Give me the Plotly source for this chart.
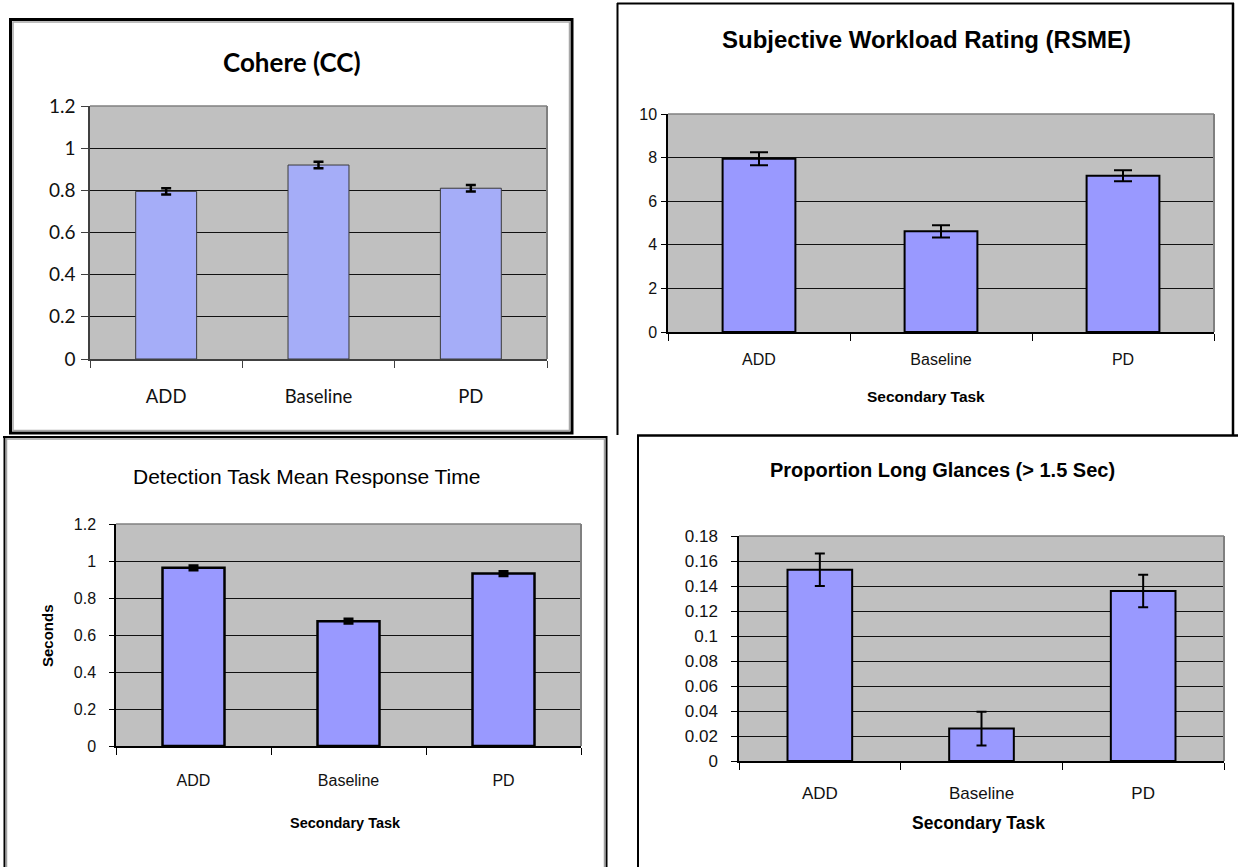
import plotly.graph_objects as go

# ---------------- data ----------------
categories = ["ADD", "Baseline", "PD"]

cc_values = [0.795, 0.92, 0.81]
cc_errors = [0.015, 0.015, 0.015]
cc_tickvals = [0, 0.2, 0.4, 0.6, 0.8, 1.0, 1.2]
cc_ticktext = ["0", "0.2", "0.4", "0.6", "0.8", "1", "1.2"]

rsme_values = [7.95, 4.62, 7.17]
rsme_errors = [0.3, 0.28, 0.25]
rsme_tickvals = [0, 2, 4, 6, 8, 10]
rsme_ticktext = ["0", "2", "4", "6", "8", "10"]

rt_values = [0.963, 0.675, 0.932]
rt_errors = [0.009, 0.009, 0.009]
rt_tickvals = [0, 0.2, 0.4, 0.6, 0.8, 1.0, 1.2]
rt_ticktext = ["0", "0.2", "0.4", "0.6", "0.8", "1", "1.2"]

lg_values = [0.153, 0.026, 0.136]
lg_errors = [0.013, 0.0135, 0.013]
lg_tickvals = [0, 0.02, 0.04, 0.06, 0.08, 0.10, 0.12, 0.14, 0.16, 0.18]
lg_ticktext = ["0", "0.02", "0.04", "0.06", "0.08", "0.1", "0.12", "0.14", "0.16", "0.18"]

titles = ["Cohere (CC)", "Subjective Workload Rating (RSME)",
          "Detection Task Mean Response Time", "Proportion Long Glances (> 1.5 Sec)"]
x_title = "Secondary Task"
y_title_rt = "Seconds"

# ---------------- geometry helpers ----------------
W, H = 1238, 867
def px(x):
    return x / W
def py(y):
    return 1 - y / H

ARIAL = "Liberation Sans, Arial, sans-serif"
CALIBRI = "Lato, Calibri, sans-serif"

fig = go.Figure()

# panel 1: Cohere
fig.add_trace(go.Bar(
    x=categories, y=cc_values, xaxis="x", yaxis="y",
    marker=dict(color="#A5ADF8", line=dict(color="#3A3A3A", width=1)),
    error_y=dict(type="data", array=cc_errors, color="black", thickness=2.5, width=5),
    showlegend=False))
# panel 2: RSME
fig.add_trace(go.Bar(
    x=categories, y=rsme_values, xaxis="x2", yaxis="y2",
    marker=dict(color="#9999FF", line=dict(color="black", width=2)),
    error_y=dict(type="data", array=rsme_errors, color="black", thickness=2, width=9),
    showlegend=False))
# panel 3: response time
fig.add_trace(go.Bar(
    x=categories, y=rt_values, xaxis="x3", yaxis="y3",
    marker=dict(color="#9999FF", line=dict(color="black", width=2.5)),
    error_y=dict(type="data", array=rt_errors, color="black", thickness=4, width=5),
    showlegend=False))
# panel 4: long glances
fig.add_trace(go.Bar(
    x=categories, y=lg_values, xaxis="x4", yaxis="y4",
    marker=dict(color="#9999FF", line=dict(color="black", width=2)),
    error_y=dict(type="data", array=lg_errors, color="black", thickness=2, width=5),
    showlegend=False))

def xaxis(dom, anchor, font, size, standoff, linecolor="black"):
    return dict(domain=[px(dom[0]), px(dom[1])], anchor=anchor, automargin=False,
                type="category", range=[-0.5, 2.5],
                showline=True, linecolor=linecolor, linewidth=1.5,
                ticks="outside", tickson="boundaries", ticklen=7, tickcolor=linecolor,
                tickwidth=1, showgrid=False, zeroline=False,
                tickfont=dict(family=font, size=size, color="#111"),
                ticklabelstandoff=standoff, fixedrange=True)

def yaxis(dom, anchor, rng, vals, text, font, size, standoff, ticklen=6, linecolor="black"):
    return dict(domain=[py(dom[1]), py(dom[0])], anchor=anchor, range=rng, automargin=False,
                tickvals=vals, ticktext=text,
                showline=True, linecolor=linecolor, linewidth=1.5,
                ticks="outside", ticklen=ticklen, tickcolor=linecolor, tickwidth=1,
                showgrid=True, gridcolor="#111", gridwidth=1, zeroline=False,
                tickfont=dict(family=font, size=size, color="#111"),
                ticklabelstandoff=standoff, fixedrange=True)

# plot-area pixel boxes (left, right) and (top, bottom)
P1x, P1y = (90, 547), (106, 359)
P2x, P2y = (668, 1214), (114, 332)
P3x, P3y = (116, 581), (524, 746)
P4x, P4y = (739, 1224), (536, 761)

fig.update_layout(
    width=W, height=H, margin=dict(l=0, r=0, t=0, b=0, pad=0, autoexpand=False),
    paper_bgcolor="white", plot_bgcolor="#C0C0C0",
    bargap=0.6, showlegend=False,
    xaxis=xaxis(P1x, "y", CALIBRI, 18.5, 20, linecolor="#404040"),
    yaxis=yaxis(P1y, "x", [0, 1.2], cc_tickvals, cc_ticktext, CALIBRI, 19, 2, ticklen=7, linecolor="#404040"),
    xaxis2=xaxis(P2x, "y2", ARIAL, 16, 12),
    yaxis2=yaxis(P2y, "x2", [0, 10], rsme_tickvals, rsme_ticktext, ARIAL, 16, 1, ticklen=5),
    xaxis3=xaxis(P3x, "y3", ARIAL, 16, 19),
    yaxis3=yaxis(P3y, "x3", [0, 1.2], rt_tickvals, rt_ticktext, ARIAL, 16, 10, ticklen=5),
    xaxis4=xaxis(P4x, "y4", ARIAL, 17, 16),
    yaxis4=yaxis(P4y, "x4", [0, 0.18], lg_tickvals, lg_ticktext, ARIAL, 17, 10, ticklen=6),
)

ann = []
def add_text(text, x, y, family, size, bold=False, angle=0):
    ann.append(dict(text=f"<b>{text}</b>" if bold else text, x=px(x), y=py(y),
                    xref="paper", yref="paper", xanchor="center", yanchor="middle",
                    showarrow=False, textangle=angle,
                    font=dict(family=family, size=size, color="black")))

add_text(titles[0], 292, 62, CALIBRI, 26, bold=True)
add_text(titles[1], 926, 40, ARIAL, 24, bold=True)
add_text(x_title, 926, 396, ARIAL, 15.5, bold=True)
add_text(titles[2], 306, 476, ARIAL, 21)
add_text(x_title, 345, 823, ARIAL, 14.5, bold=True)
add_text(y_title_rt, 47, 636, ARIAL, 15, bold=True, angle=-90)
add_text(titles[3], 942, 470, ARIAL, 20, bold=True)
add_text(x_title, 978, 823, ARIAL, 17.5, bold=True)
fig.update_layout(annotations=ann)

shapes = []
def line(x0, y0, x1, y1, color="black", width=2):
    shapes.append(dict(type="line", xref="paper", yref="paper",
                       x0=px(x0), y0=py(y0), x1=px(x1), y1=py(y1),
                       line=dict(color=color, width=width)))

# panel 1 frame (thick black + gray inner)
shapes.append(dict(type="rect", xref="paper", yref="paper",
                   x0=px(10.5), y0=py(433), x1=px(572), y1=py(19.5),
                   line=dict(color="black", width=3)))
shapes.append(dict(type="rect", xref="paper", yref="paper",
                   x0=px(13), y0=py(430.5), x1=px(569.5), y1=py(22),
                   line=dict(color="#A8A8A8", width=1.5)))
# panel 2 frame
line(617.5, 3, 617.5, 435)
line(617, 3.5, 1234, 3.5)
line(1233, 3, 1233, 436, width=2.5)
# panel 4 top / panel 2 bottom
line(637, 435.5, 1238, 435.5, width=2.5)
# panel 3 frame
line(4.5, 436, 4.5, 867)
line(6.5, 438, 6.5, 867, color="#A0A0A0", width=1.5)
line(3, 437, 607, 437)
line(6, 439, 605, 439, color="#A0A0A0", width=1.5)
line(606.5, 436, 606.5, 867)
line(604.5, 439, 604.5, 867, color="#A0A0A0", width=1.5)
# panel 4 left
line(638, 436, 638, 867)

# plot-area top/right border (gray)
for xa, ya in [("x", "y"), ("x2", "y2"), ("x3", "y3"), ("x4", "y4")]:
    shapes.append(dict(type="line", xref=f"{xa} domain", yref=f"{ya} domain",
                       x0=0, y0=1, x1=1, y1=1, line=dict(color="#808080", width=1.5)))
    shapes.append(dict(type="line", xref=f"{xa} domain", yref=f"{ya} domain",
                       x0=1, y0=0, x1=1, y1=1, line=dict(color="#808080", width=2)))

fig.update_layout(shapes=shapes)

fig.write_html("out.html", config={"displayModeBar": False},
               post_script="document.body.style.margin='0';document.body.style.overflow='hidden';")
